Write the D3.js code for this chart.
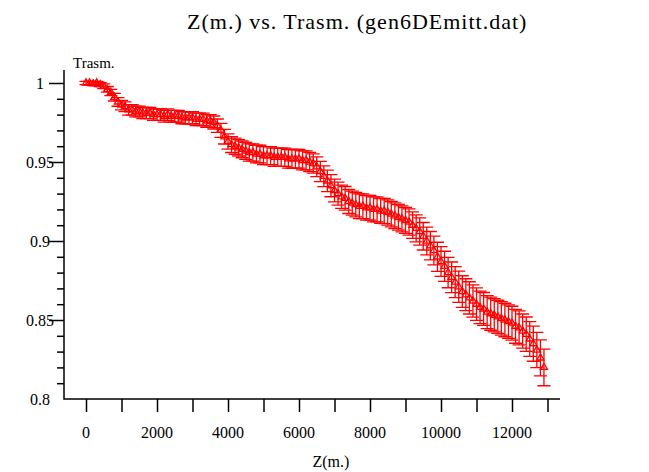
<!DOCTYPE html>
<html>
<head>
<meta charset="utf-8">
<script src="https://cdn.jsdelivr.net/npm/d3@7"></script>
<style>
  html, body { margin: 0; padding: 0; background: #fff; }
  #wrap { position: relative; width: 649px; height: 472px; }
  #wrap svg { position: absolute; left: 0; top: 0; }
  .lab { position: absolute; font-family: "Liberation Serif"; color: #000; white-space: nowrap; line-height: 1; }
</style>
</head>
<body>
<div id="wrap"><svg id="chart" width="649" height="472"></svg></div>
<script>
// Position along the line (m)
const zPos = [
  0, 100, 200, 300, 400, 500, 600, 700, 800, 900,
  1000, 1100, 1200, 1300, 1400, 1500, 1600, 1700, 1800, 1900,
  2000, 2100, 2200, 2300, 2400, 2500, 2600, 2700, 2800, 2900,
  3000, 3100, 3200, 3300, 3400, 3500, 3600, 3700, 3800, 3900,
  4000, 4100, 4200, 4300, 4400, 4500, 4600, 4700, 4800, 4900,
  5000, 5100, 5200, 5300, 5400, 5500, 5600, 5700, 5800, 5900,
  6000, 6100, 6200, 6300, 6400, 6500, 6600, 6700, 6800, 6900,
  7000, 7100, 7200, 7300, 7400, 7500, 7600, 7700, 7800, 7900,
  8000, 8100, 8200, 8300, 8400, 8500, 8600, 8700, 8800, 8900,
  9000, 9100, 9200, 9300, 9400, 9500, 9600, 9700, 9800, 9900,
  10000, 10100, 10200, 10300, 10400, 10500, 10600, 10700, 10800, 10900,
  11000, 11100, 11200, 11300, 11400, 11500, 11600, 11700, 11800, 11900,
  12000, 12100, 12200, 12300, 12400, 12500, 12600, 12700, 12800, 12900
];

// Transmission at each position
const trasm = [
  1.000, 1.000, 0.9995, 1.000, 0.999, 0.998, 0.996, 0.994, 0.991, 0.988,
  0.986, 0.985, 0.983, 0.983, 0.982, 0.982, 0.981, 0.981, 0.981, 0.980,
  0.980, 0.980, 0.979, 0.980, 0.979, 0.979, 0.979, 0.978, 0.978, 0.978,
  0.978, 0.977, 0.977, 0.977, 0.976, 0.976, 0.975, 0.973, 0.970, 0.966,
  0.963, 0.961, 0.960, 0.959, 0.958, 0.957, 0.956, 0.956, 0.955, 0.955,
  0.954, 0.954, 0.954, 0.953, 0.953, 0.953, 0.953, 0.952, 0.952, 0.952,
  0.952, 0.951, 0.951, 0.950, 0.949, 0.947, 0.944, 0.941, 0.938, 0.935,
  0.932, 0.930, 0.928, 0.927, 0.925, 0.924, 0.923, 0.922, 0.922, 0.921,
  0.921, 0.920, 0.920, 0.919, 0.919, 0.918, 0.917, 0.916, 0.915, 0.914,
  0.913, 0.912, 0.910, 0.908, 0.906, 0.903, 0.900, 0.897, 0.894, 0.890,
  0.887, 0.884, 0.880, 0.877, 0.874, 0.871, 0.868, 0.866, 0.864, 0.862,
  0.860, 0.858, 0.857, 0.855, 0.854, 0.853, 0.852, 0.851, 0.850, 0.849,
  0.848, 0.846, 0.845, 0.843, 0.841, 0.838, 0.835, 0.831, 0.826, 0.820
];

// Statistical error on each transmission value
const trasmErr = [
  0.0010, 0.0010, 0.0012, 0.0010, 0.0013, 0.0015, 0.0018, 0.0020, 0.0024, 0.0027,
  0.0030, 0.0031, 0.0033, 0.0033, 0.0034, 0.0034, 0.0035, 0.0035, 0.0035, 0.0036,
  0.0036, 0.0036, 0.0037, 0.0036, 0.0037, 0.0037, 0.0037, 0.0038, 0.0038, 0.0038,
  0.0038, 0.0039, 0.0039, 0.0039, 0.0040, 0.0040, 0.0041, 0.0042, 0.0044, 0.0046,
  0.0048, 0.0050, 0.0051, 0.0052, 0.0053, 0.0054, 0.0055, 0.0055, 0.0056, 0.0056,
  0.0057, 0.0057, 0.0057, 0.0058, 0.0058, 0.0058, 0.0058, 0.0059, 0.0059, 0.0059,
  0.0059, 0.0060, 0.0060, 0.0061, 0.0061, 0.0062, 0.0064, 0.0066, 0.0068, 0.0070,
  0.0072, 0.0073, 0.0074, 0.0075, 0.0076, 0.0076, 0.0077, 0.0078, 0.0078, 0.0078,
  0.0078, 0.0079, 0.0079, 0.0079, 0.0080, 0.0080, 0.0080, 0.0081, 0.0081, 0.0082,
  0.0082, 0.0083, 0.0084, 0.0085, 0.0086, 0.0087, 0.0088, 0.0090, 0.0091, 0.0092,
  0.0094, 0.0095, 0.0096, 0.0097, 0.0098, 0.0099, 0.0100, 0.0101, 0.0102, 0.0102,
  0.0103, 0.0103, 0.0104, 0.0104, 0.0105, 0.0105, 0.0105, 0.0106, 0.0106, 0.0106,
  0.0107, 0.0107, 0.0108, 0.0108, 0.0109, 0.0110, 0.0111, 0.0112, 0.0114, 0.0116
];

// Axis ticks and labels
const xTickValues = [0, 1000, 2000, 3000, 4000, 5000, 6000, 7000, 8000, 9000, 10000, 11000, 12000, 13000];
const xTickLabels = ["0", "", "2000", "", "4000", "", "6000", "", "8000", "", "10000", "", "12000", ""];
const yMajorValues = [0.85, 0.9, 0.95, 1];
const yLabelValues = [0.8, 0.85, 0.9, 0.95, 1];
const yLabels = ["0.8", "0.85", "0.9", "0.95", "1"];
const yMinorValues = [0.81, 0.82, 0.83, 0.84, 0.86, 0.87, 0.88, 0.89, 0.91, 0.92, 0.93, 0.94, 0.96, 0.97, 0.98, 0.99];

const chartTitle = "Z(m.) vs. Trasm. (gen6DEmitt.dat)";
const xTitle = "Z(m.)";
const yTitle = "Trasm.";

const svg = d3.select("#chart");
const wrap = d3.select("#wrap");
const color = "#ff0000";

const axisX0 = 64, axisY0 = 399;

const x = d3.scaleLinear().domain([0, 13000]).range([86, 547.5]);
const y = d3.scaleLinear().domain([0.8, 1.0]).range([399, 83]);

const data = zPos.map((z, i) => ({ z, t: trasm[i], e: trasmErr[i] }));

// Axis lines
svg.append("path")
  .attr("d", d3.line()([[axisX0, 70], [axisX0, axisY0], [560, axisY0]]))
  .attr("fill", "none").attr("stroke", "#000").attr("stroke-width", 1.5);

// X axis ticks (hanging below the axis)
const gx = svg.append("g").attr("transform", `translate(0,${axisY0})`)
  .call(d3.axisBottom(x).tickValues(xTickValues).tickSize(13).tickFormat(""));
gx.select(".domain").remove();
gx.selectAll(".tick line").attr("stroke", "#000").attr("stroke-width", 1.5);

// Y axis ticks: minor and major
const gyMinor = svg.append("g").attr("transform", `translate(${axisX0},0)`)
  .call(d3.axisLeft(y).tickValues(yMinorValues).tickSize(7).tickFormat(""));
gyMinor.select(".domain").remove();
gyMinor.selectAll(".tick line").attr("stroke", "#000").attr("stroke-width", 1.5);

const gy = svg.append("g").attr("transform", `translate(${axisX0},0)`)
  .call(d3.axisLeft(y).tickValues(yMajorValues).tickSize(15).tickFormat(""));
gy.select(".domain").remove();
gy.selectAll(".tick line").attr("stroke", "#000").attr("stroke-width", 1.5);

// Error bars with caps
const capHalf = 6.5;
svg.append("g")
  .attr("stroke", color).attr("fill", "none").attr("stroke-width", 1.3)
  .selectAll("path").data(data).join("path")
  .attr("d", d => {
    const px = x(d.z), hi = y(d.t + d.e), lo = y(d.t - d.e);
    return `M${px},${hi}V${lo}M${px - capHalf},${hi}H${px + capHalf}M${px - capHalf},${lo}H${px + capHalf}`;
  });

// Triangle markers
const tri = d3.symbol(d3.symbolTriangle, 22)();
svg.append("g")
  .attr("stroke", color).attr("fill", "none").attr("stroke-width", 1.3)
  .selectAll("path").data(data).join("path")
  .attr("transform", d => `translate(${x(d.z)},${y(d.t)})`)
  .attr("d", tri);

// Text labels, placed by their centre (cx, cy) or left edge
function label(cx, cy, str, size, align, spacing) {
  const el = wrap.append("div")
    .attr("class", "lab")
    .style("font-size", size + "px")
    .style("letter-spacing", (spacing || 0) + "px")
    .text(str);
  const node = el.node();
  const w = node.offsetWidth, h = node.offsetHeight;
  el.style("left", (align === "start" ? cx : cx - w / 2) + "px")
    .style("top", (cy - h / 2) + "px");
  return el;
}

label(357, 22, chartTitle, 22, "middle", 1);
label(73, 63, yTitle, 15, "start");
label(331, 462, xTitle, 16, "middle");

xTickValues.forEach((v, i) => {
  if (xTickLabels[i]) label(x(v), 433, xTickLabels[i], 16, "middle");
});
yLabelValues.forEach((v, i) => label(40, y(v) + 1, yLabels[i], 16, "middle"));
</script>
</body>
</html>
